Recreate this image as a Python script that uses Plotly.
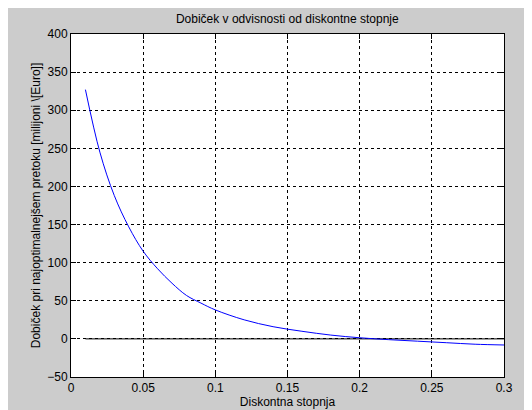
import plotly.graph_objects as go

rates = [0.01,0.02,0.03,0.04,0.05,0.06,0.07,0.08,0.09,0.10,0.12,0.14,0.16,0.18,0.20,0.22,0.24,0.26,0.28,0.30]
profit = [327,245,188,147,115,92,73,57,47,38,25,16,10,5,1.5,-1,-3,-5,-7,-8]
zero_x = [0.01, 0.30]
zero_y = [0, 0]

fig = go.Figure()
fig.add_trace(go.Scatter(x=zero_x, y=zero_y, mode="lines", line=dict(color="black", width=1)))
fig.add_trace(go.Scatter(x=rates, y=profit, mode="lines", line=dict(color="#0000ff", width=1, shape="spline")))

ax = dict(showline=True, linecolor="black", linewidth=1, mirror="ticks", ticks="inside",
          ticklen=5, tickcolor="black", showgrid=True, gridcolor="black", griddash="dot",
          gridwidth=1, zeroline=False, tickfont=dict(size=12, color="black"), automargin=False)
fig.update_xaxes(range=[0, 0.3], tickvals=[0,0.05,0.1,0.15,0.2,0.25,0.3],
                 ticktext=["0","0.05","0.1","0.15","0.2","0.25","0.3"],
                 title=dict(text="Diskontna stopnja", standoff=2, font=dict(size=12, color="black")), **ax)
fig.update_yaxes(range=[-50, 400], dtick=50,
                 title=dict(text="Dobiček pri najoptimalnejšem pretoku [milijoni \\[Euro]]", standoff=4,
                            font=dict(size=12, color="black")), **ax)
fig.update_layout(width=532, height=410, showlegend=False,
                  paper_bgcolor="#cccccc", plot_bgcolor="white",
                  font=dict(family="Liberation Sans, Arial", size=12, color="black"),
                  title=dict(text="Dobiček v odvisnosti od diskontne stopnje", x=0.525, y=0.985,
                             xanchor="center", yanchor="top", automargin=False,
                             font=dict(size=12, color="black")),
                  margin=dict(l=63, r=36, t=26, b=41, autoexpand=False))
fig.write_html("out.html")
